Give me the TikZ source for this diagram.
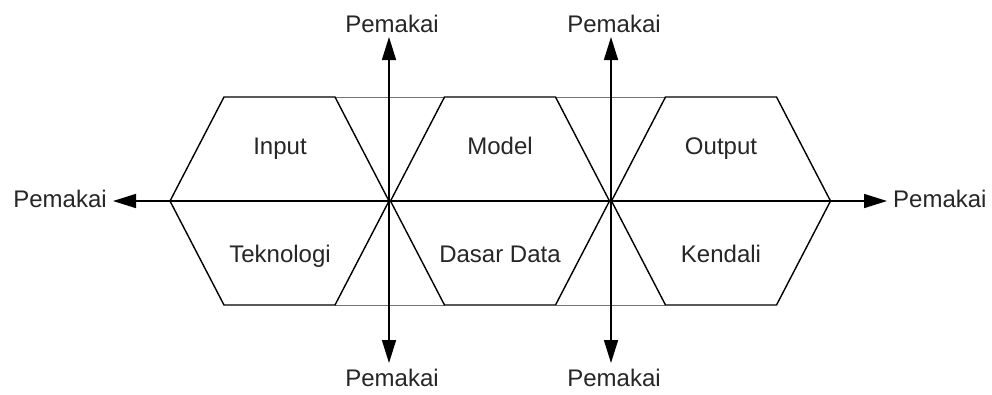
\documentclass[tikz,border=0pt]{standalone}
\usepackage{fontspec}
\setmainfont{Liberation Sans}
\usetikzlibrary{arrows.meta}
\begin{document}
\begin{tikzpicture}[x=1pt,y=-1pt,
  hexline/.style={line width=1.4pt, line join=miter},
  linkline/.style={line width=0.8pt, black!55},
  axisline/.style={line width=1.6pt},
  axisarrow/.style={line width=1.6pt, -{Triangle[length=23pt,width=14pt]}},
  lbl/.style={font=\fontsize{24}{28}\selectfont, text=black!85, inner sep=0pt, anchor=base},
]
\useasboundingbox[fill=white] (0,0) rectangle (992,394);
% connecting thin lines along top and bottom
\draw[linkline] (335,97) -- (445,97) (556,97) -- (665,97);
\draw[linkline] (335,305) -- (445,305) (556,305) -- (665,305);
% hexagons
\foreach \c in {279.5,500,721}{
  \draw[hexline] (\c-109.5,201) -- (\c-55.5,97) -- (\c+55.5,97) -- (\c+109.5,201)
    -- (\c+55.5,305) -- (\c-55.5,305) -- cycle;
}
% coordinates
\coordinate (v1) at (389,201);
\coordinate (v2) at (611,201);
\coordinate (t1) at (389,37);
\coordinate (t2) at (611,37);
\coordinate (b1) at (389,363);
\coordinate (b2) at (611,363);
\coordinate (lt) at (113,201);
\coordinate (rt) at (887,201);
% axes
\draw[axisline] (v1) -- (v2);
\draw[axisarrow] (v1) -- (lt);
\draw[axisarrow] (v2) -- (rt);
\draw[axisarrow] (v1) -- (t1);
\draw[axisarrow] (v1) -- (b1);
\draw[axisarrow] (v2) -- (t2);
\draw[axisarrow] (v2) -- (b2);
% labels
\node[lbl] (pt1) at (392,32) {Pemakai};
\node[lbl] (pt2) at (614,32) {Pemakai};
\node[lbl] (pb1) at (392,386) {Pemakai};
\node[lbl] (pb2) at (614,386) {Pemakai};
\node[lbl] (pl) at (60,207) {Pemakai};
\node[lbl, anchor=base west] (pr) at (893,207) {Pemakai};
\node[lbl] (in) at (280,154) {Input};
\node[lbl] (mo) at (500,154) {Model};
\node[lbl] (ou) at (721,154) {Output};
\node[lbl] (te) at (280,262) {Teknologi};
\node[lbl] (dd) at (500,262) {Dasar Data};
\node[lbl] (ke) at (721,262) {Kendali};
\end{tikzpicture}
\end{document}
